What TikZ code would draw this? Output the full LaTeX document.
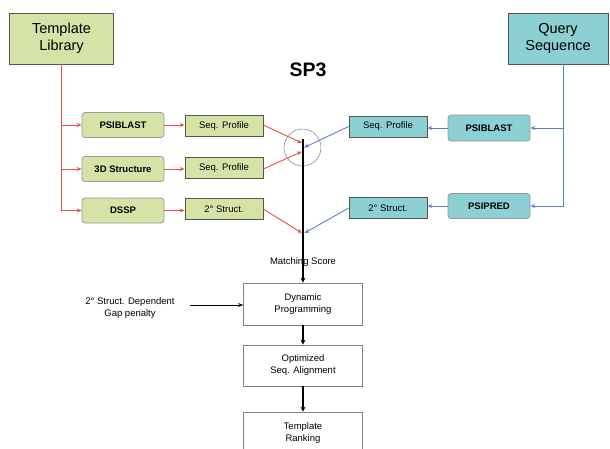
\documentclass[tikz,border=0pt]{standalone}
\usepackage{fontspec}
\setmainfont{Liberation Sans}
\usetikzlibrary{arrows.meta,calc}
\definecolor{libgreen}{RGB}{214,227,166}
\definecolor{qteal}{RGB}{140,208,212}
\definecolor{redln}{RGB}{232,80,70}
\definecolor{blueln}{RGB}{95,125,195}
\definecolor{bord}{RGB}{85,85,85}
\begin{document}
\begin{tikzpicture}[x=1pt,y=-1pt,
  bigbox/.style={draw=bord, line width=0.8pt, minimum width=104pt, minimum height=51pt,
    font=\fontsize{14.5}{17}\selectfont, align=center, inner sep=0pt},
  toolbox/.style={draw=gray!80, rounded corners=3pt, line width=0.8pt, minimum width=82pt,
    minimum height=25pt, font=\bfseries\fontsize{9.5}{11}\selectfont, inner sep=0pt},
  profbox/.style={draw=bord, line width=0.6pt, minimum width=78pt, minimum height=21pt,
    font=\fontsize{9.5}{11}\selectfont, inner sep=0pt},
  procbox/.style={draw=gray, line width=0.7pt, fill=white, minimum width=119pt,
    minimum height=42pt, font=\fontsize{9.5}{12}\selectfont, align=center, inner sep=0pt},
  rarr/.style={draw=redln, line width=0.9pt, -{Stealth[length=5pt,width=4pt]}},
  barr/.style={draw=blueln, line width=0.9pt, -{Stealth[length=5pt,width=4pt]}},
  karr/.style={draw=black, line width=1.8pt, -{Stealth[length=5pt,width=5pt]}},
  lbl/.style={font=\fontsize{9.5}{12}\selectfont, align=center, inner sep=0pt},
]
\useasboundingbox (0,0) rectangle (610,448);
% main boxes
\node[bigbox, fill=libgreen] (lib) at (61.5,38.5) {Template\\Library};
\node[bigbox, fill=qteal, minimum width=100pt] (qs) at (558,38.5) {Query\\Sequence};
\node[font=\bfseries\fontsize{19.5}{22}\selectfont, inner sep=0pt] (title) at (308,70) {SP3};
% left tools
\node[toolbox, fill=libgreen] (lpsi) at (123,125) {PSIBLAST};
\node[toolbox, fill=libgreen] (l3d) at (123,169) {3D Structure};
\node[toolbox, fill=libgreen] (ldssp) at (123,210.5) {DSSP};
\node[profbox, fill=libgreen] (lp1) at (224,126) {Seq. Profile};
\node[profbox, fill=libgreen] (lp2) at (224,168) {Seq. Profile};
\node[profbox, fill=libgreen] (lp3) at (224,209) {2° Struct.};
% right tools
\node[toolbox, fill=qteal, minimum height=26pt] (rpsi) at (489,128) {PSIBLAST};
\node[toolbox, fill=qteal] (rpred) at (489,206) {PSIPRED};
\node[profbox, fill=qteal] (rp1) at (388,126.5) {Seq. Profile};
\node[profbox, fill=qteal] (rp2) at (388,208) {2° Struct.};
% circle and convergence
\node[circle, draw=gray!90, line width=0.6pt, minimum size=37pt, inner sep=0pt] (circ) at (302.5,147.5) {};
\coordinate (ktop) at (303,139);
\coordinate (t1) at (302,143);
\coordinate (t2) at (302,151.5);
\coordinate (t3) at (304,147.5);
\coordinate (t4) at (302,233);
\coordinate (t5) at (304.5,233);
% process boxes
\node[procbox] (dp) at (303,304) {Dynamic\\Programming};
\node[procbox, minimum height=41pt] (opt) at (303,365.5) {Optimized\\Seq. Alignment};
\node[procbox, minimum height=48pt, text depth=0pt] (tr) at (303,436) {};
\node[lbl] (trtxt) at (303,433) {Template\\Ranking};
\node[lbl] (gap) at (130,308.5) {2° Struct. Dependent\\Gap penalty};
\coordinate (gapstart) at (190,305);
% left connections
\draw[rarr] (lib.south) |- (lpsi.west);
\draw[rarr] (lib.south) |- (l3d.west);
\draw[rarr] (lib.south) |- (ldssp.west);
\draw[rarr] (lpsi.east) -- (lpsi.east -| lp1.west);
\draw[rarr] (l3d.east) -- (l3d.east -| lp2.west);
\draw[rarr] (ldssp.east) -- (ldssp.east -| lp3.west);
% right connections
\draw[barr] ($(qs.south)+(5.5,0)$) |- (rpsi.east);
\draw[barr] ($(qs.south)+(5.5,0)$) |- (rpred.east);
\draw[barr] (rpsi.west) -- (rpsi.west -| rp1.east);
\draw[barr] (rpred.west) -- (rpred.west -| rp2.east);
% black main line
\draw[karr] (ktop) -- (dp.north);
% converging arrows
\draw[rarr] ($(lp1.east)+(0,-1)$) -- (t1);
\draw[rarr] ($(lp2.east)+(0,1)$) -- (t2);
\draw[barr] (rp1.west) -- (t3);
\draw[rarr] (lp3.east) -- (t4);
\draw[barr] (rp2.west) -- (t5);
\node[lbl] (ms) at (303,262) {Matching Score};
% lower flow
\draw[line width=0.8pt, -{Stealth[length=5pt,width=4pt]}] (gapstart) -- (gapstart -| dp.west);
\draw[karr] (dp.south) -- (opt.north);
\draw[karr] (opt.south) -- (tr.north);
\end{tikzpicture}
\end{document}
